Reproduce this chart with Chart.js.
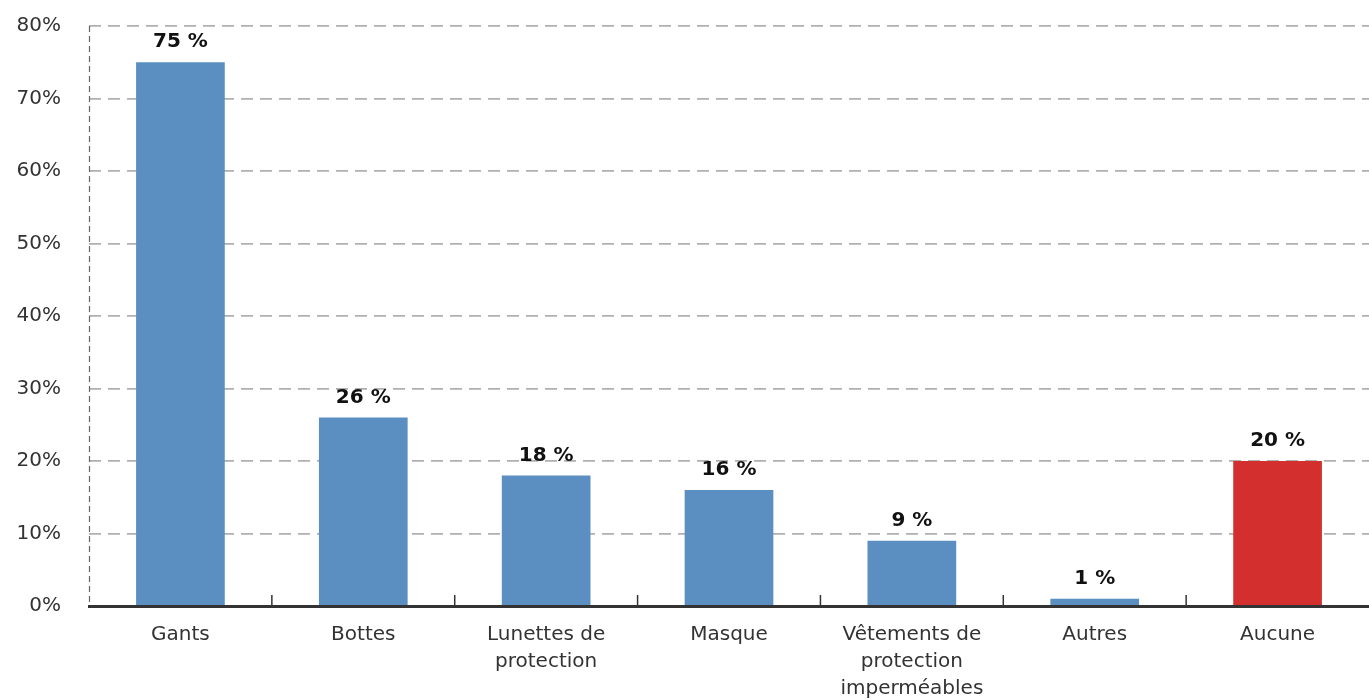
<!DOCTYPE html>
<html>
<head>
<meta charset="utf-8">
<script src="https://cdn.jsdelivr.net/npm/chart.js@4.4.0/dist/chart.umd.min.js"></script>
<style>
html,body{margin:0;padding:0;background:#fff;}
#wrap{width:1369px;height:700px;position:relative;}
</style>
</head>
<body>
<div id="wrap"><canvas id="c" width="1369" height="700"></canvas></div>
<script>
const categories = [
  ['Gants'],
  ['Bottes'],
  ['Lunettes de', 'protection'],
  ['Masque'],
  ['Vêtements de', 'protection', 'imperméables'],
  ['Autres'],
  ['Aucune']
];
const values = [75, 26, 18, 16, 9, 1, 20];
const barColors = ['#5b8ec1', '#5b8ec1', '#5b8ec1', '#5b8ec1', '#5b8ec1', '#5b8ec1', '#d32f2f'];
const yTicks = [0, 10, 20, 30, 40, 50, 60, 70, 80];

const FONT = 'DejaVu Sans';

const valueLabels = {
  id: 'valueLabels',
  afterDatasetsDraw(chart) {
    const ctx = chart.ctx;
    const meta = chart.getDatasetMeta(0);
    ctx.save();
    ctx.font = 'bold 20px "' + FONT + '"';
    ctx.fillStyle = '#111';
    ctx.textAlign = 'center';
    ctx.textBaseline = 'middle';
    meta.data.forEach((bar, i) => {
      ctx.fillText(values[i] + ' %', bar.x, bar.y - 20);
    });
    ctx.restore();
  }
};

const axisDecor = {
  id: 'axisDecor',
  beforeDatasetsDraw(chart) {
    const ctx = chart.ctx;
    const a = chart.chartArea;
    ctx.save();
    ctx.strokeStyle = '#666';
    ctx.lineWidth = 1.2;
    ctx.setLineDash([6, 4]);
    ctx.beginPath();
    ctx.moveTo(a.left + 0.5, a.top);
    ctx.lineTo(a.left + 0.5, a.bottom);
    ctx.stroke();
    ctx.restore();
  },
  afterDraw(chart) {
    const ctx = chart.ctx;
    const xs = chart.scales.x;
    const bottom = chart.chartArea.bottom;
    ctx.save();
    ctx.strokeStyle = '#333';
    ctx.lineWidth = 1.5;
    for (let i = 1; i < categories.length; i++) {
      const x = (xs.getPixelForValue(i - 1) + xs.getPixelForValue(i)) / 2;
      ctx.beginPath();
      ctx.moveTo(x, bottom);
      ctx.lineTo(x, bottom - 11);
      ctx.stroke();
    }
    ctx.restore();
  }
};

new Chart(document.getElementById('c'), {
  type: 'bar',
  data: {
    labels: categories,
    datasets: [{
      data: values,
      backgroundColor: barColors,
      borderWidth: 0,
      barPercentage: 0.485,
      categoryPercentage: 1
    }]
  },
  options: {
    responsive: false,
    animation: false,
    layout: { padding: { top: 26, right: 0, left: 0, bottom: 0 } },
    plugins: { legend: { display: false }, tooltip: { enabled: false } },
    scales: {
      x: {
        grid: { display: false, drawTicks: false },
        border: { display: true, color: '#333', width: 3 },
        ticks: {
          color: '#333',
          font: { family: FONT, size: 20, lineHeight: 1.35 },
          padding: 15,
          maxRotation: 0,
          autoSkip: false
        },
        afterFit(scale) { scale.height = 94; scale.paddingTop = 0; scale.paddingBottom = 0; scale.paddingRight = 0; }
      },
      y: {
        min: 0,
        max: 80,
        afterBuildTicks(scale) { scale.ticks = yTicks.map(v => ({ value: v })); },
        grid: {
          color: (c) => c.tick && c.tick.value === 0 ? 'rgba(0,0,0,0)' : '#b0b0b0',
          lineWidth: 1.8,
          drawTicks: false
        },
        border: { display: false, dash: [12, 7] },
        ticks: {
          color: '#333',
          font: { family: FONT, size: 20 },
          padding: 28,
          callback: (v) => v + '%'
        },
        afterFit(scale) { scale.width = 89; scale.paddingTop = 0; scale.paddingBottom = 0; }
      }
    }
  },
  plugins: [valueLabels, axisDecor]
});
</script>
</body>
</html>
